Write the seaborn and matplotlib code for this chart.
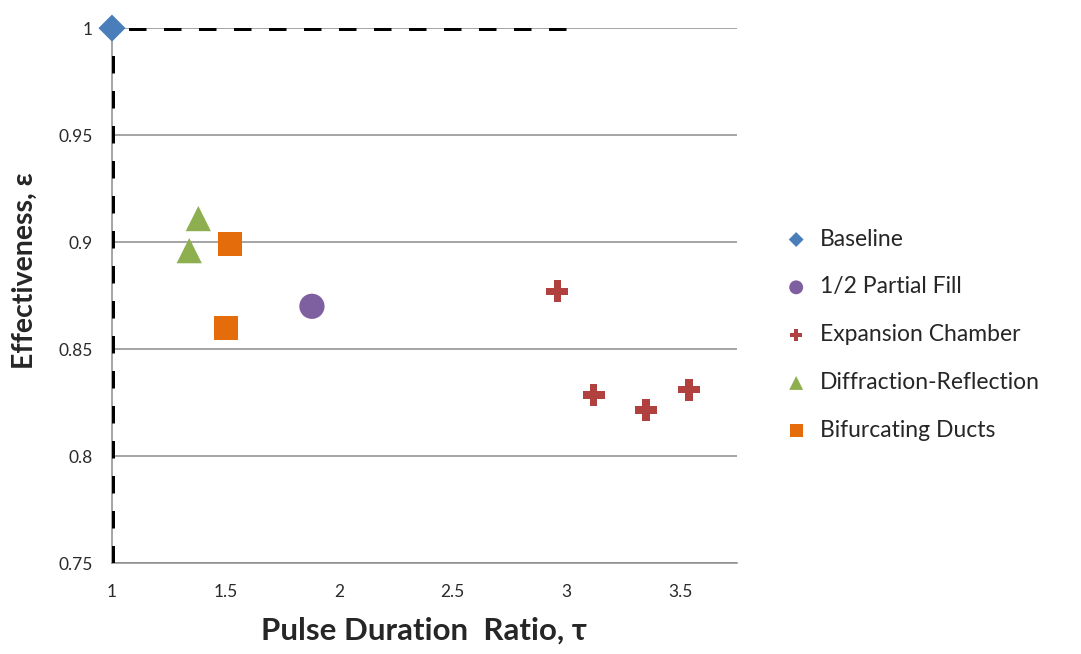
import matplotlib
matplotlib.use("Agg")
import matplotlib.pyplot as plt
import seaborn as sns
import pandas as pd

# Measured configurations: pulse duration ratio (tau) vs effectiveness (epsilon)
series_names = ["Baseline", "1/2 Partial Fill", "Expansion Chamber",
                "Diffraction-Reflection", "Bifurcating Ducts"]
baseline_tau = [1.0]
baseline_eps = [1.0]
partial_tau = [1.88]
partial_eps = [0.870]
expansion_tau = [2.96, 3.12, 3.35, 3.54]
expansion_eps = [0.877, 0.8285, 0.8215, 0.831]
diffraction_tau = [1.38, 1.34]
diffraction_eps = [0.911, 0.896]
bifurcating_tau = [1.52, 1.50]
bifurcating_eps = [0.899, 0.860]

x_ticks = [1, 1.5, 2, 2.5, 3, 3.5]
x_tick_labels = ["1", "1.5", "2", "2.5", "3", "3.5"]
y_ticks = [0.75, 0.8, 0.85, 0.9, 0.95, 1.0]
y_tick_labels = ["0.75", "0.8", "0.85", "0.9", "0.95", "1"]

rows = []
for name, xs, ys in zip(series_names,
                        [baseline_tau, partial_tau, expansion_tau, diffraction_tau, bifurcating_tau],
                        [baseline_eps, partial_eps, expansion_eps, diffraction_eps, bifurcating_eps]):
    for x, y in zip(xs, ys):
        rows.append({"tau": x, "eps": y, "series": name})
df = pd.DataFrame(rows)

palette = {"Baseline": "#4A7EBB", "1/2 Partial Fill": "#7E5FA0",
           "Expansion Chamber": "#B0413E", "Diffraction-Reflection": "#8EAF4F",
           "Bifurcating Ducts": "#E46C0A"}
markers = {"Baseline": "D", "1/2 Partial Fill": "o", "Expansion Chamber": "P",
           "Diffraction-Reflection": "^", "Bifurcating Ducts": "s"}
sizes = {"Baseline": 190, "1/2 Partial Fill": 330, "Expansion Chamber": 250,
         "Diffraction-Reflection": 330, "Bifurcating Ducts": 300}

sns.set_style("white")
plt.rcParams["font.family"] = ["Lato", "DejaVu Sans"]

fig = plt.figure(figsize=(10.81, 6.54), dpi=100)
ax = fig.add_axes([0.1036, 0.139, 0.578, 0.818])

# Reference limits drawn as heavy dashed lines
dash = (0, (3.5, 3.5))
ax.plot([3, 1], [1, 1], color="black", lw=3.6, ls=dash, zorder=3)
ax.plot([1, 1], [0.75, 1], color="black", lw=3.6, ls=dash, zorder=3)

for name in series_names:
    sub = df[df["series"] == name]
    sns.scatterplot(data=sub, x="tau", y="eps", ax=ax, color=palette[name],
                    marker=markers[name], s=sizes[name], edgecolor="none",
                    linewidth=0, label=name, zorder=4, clip_on=False)

ax.set_xlim(1, 3.75)
ax.set_ylim(0.75, 1.0)
ax.set_xticks(x_ticks)
ax.set_xticklabels(x_tick_labels)
ax.set_yticks(y_ticks)
ax.set_yticklabels(y_tick_labels)
ax.yaxis.grid(True, color="#8C8C8C", lw=1.1)
ax.xaxis.grid(False)
for side in ["top", "right"]:
    ax.spines[side].set_visible(False)
for side in ["left", "bottom"]:
    ax.spines[side].set_color("#8C8C8C")
    ax.spines[side].set_linewidth(1.1)
ax.tick_params(axis="both", which="major", direction="out", length=6,
               width=1.1, color="#8C8C8C", labelsize=12.5, labelcolor="#2A2A2A")
ax.tick_params(axis="x", pad=9)
ax.tick_params(axis="y", pad=8)

ax.set_xlabel("Pulse Duration  Ratio, τ", fontsize=22.5, fontweight="bold", labelpad=12)
ax.set_ylabel("Effectiveness, ε", fontsize=20.5, fontweight="bold")
ax.yaxis.set_label_coords(-0.118, 0.546)

handles, labels = ax.get_legend_handles_labels()
leg = ax.legend(handles, labels, loc="center left", frameon=False, fontsize=16.5,
                markerscale=0.55, handletextpad=0.52, labelspacing=1.17,
                handlelength=1.0, borderaxespad=0)
leg.set_bbox_to_anchor((1.062, 0.427), transform=ax.transAxes)

fig.savefig("out.png", dpi=100)
